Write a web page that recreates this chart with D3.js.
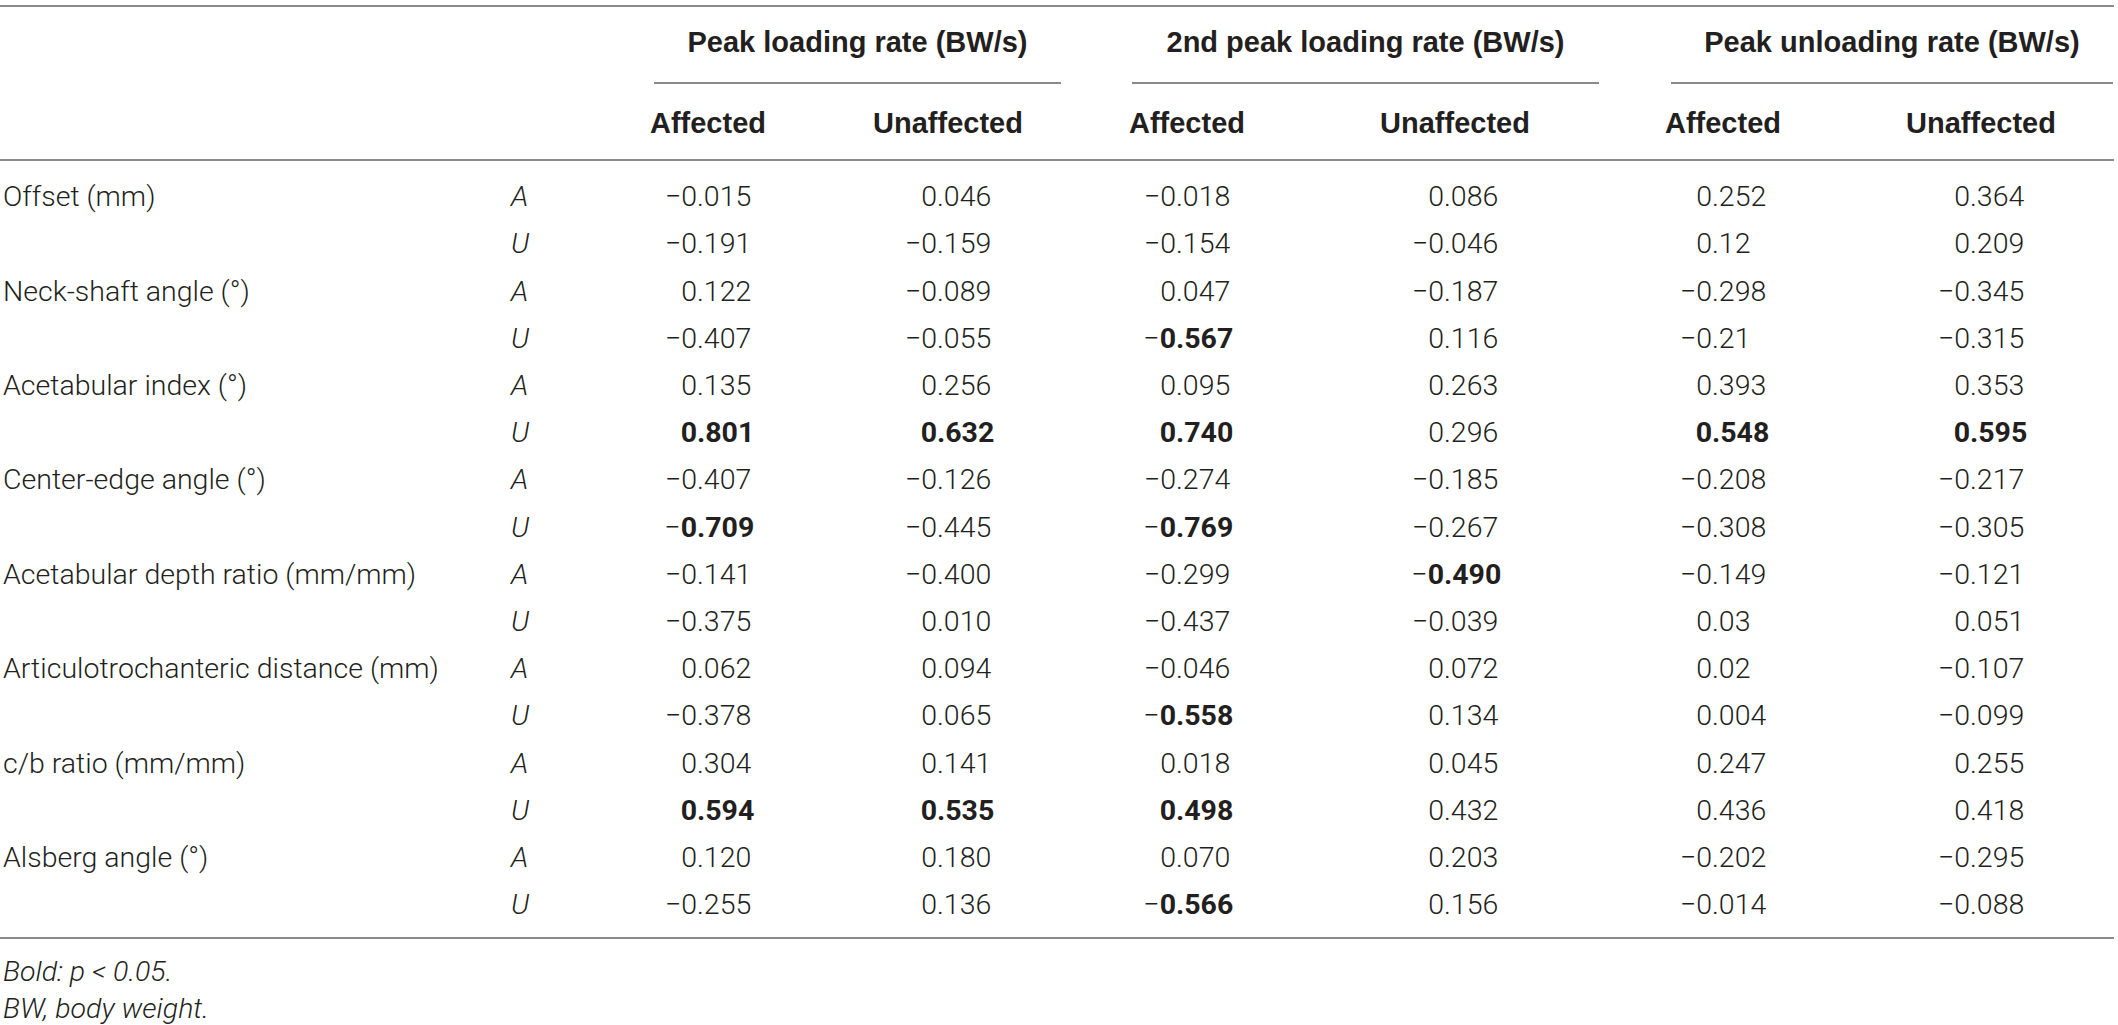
<!DOCTYPE html>
<html>
<head>
<meta charset="utf-8">
<script src="https://cdn.jsdelivr.net/npm/d3@7"></script>
<style>
  html, body { margin: 0; padding: 0; background: #fff; }
  svg { display: block; }
  text { font-family: "Roboto", "Liberation Sans", sans-serif; fill: #231f20; }
  text.hdr { font-family: "Liberation Sans", "Roboto", sans-serif; }
</style>
</head>
<body>
<script>
// ---------- DATA ----------
const variables = [
  "Offset (mm)",
  "Neck-shaft angle (°)",
  "Acetabular index (°)",
  "Center-edge angle (°)",
  "Acetabular depth ratio (mm/mm)",
  "Articulotrochanteric distance (mm)",
  "c/b ratio (mm/mm)",
  "Alsberg angle (°)"
];
const sides = ["A", "U"];
const groups = ["Peak loading rate (BW/s)", "2nd peak loading rate (BW/s)", "Peak unloading rate (BW/s)"];
const subColumns = ["Affected", "Unaffected"];

// values per column, 16 rows (A,U for each variable)
const peakLoadingAffected   = ["−0.015","−0.191","0.122","−0.407","0.135","0.801","−0.407","−0.709","−0.141","−0.375","0.062","−0.378","0.304","0.594","0.120","−0.255"];
const peakLoadingUnaffected = ["0.046","−0.159","−0.089","−0.055","0.256","0.632","−0.126","−0.445","−0.400","0.010","0.094","0.065","0.141","0.535","0.180","0.136"];
const secondPeakAffected    = ["−0.018","−0.154","0.047","−0.567","0.095","0.740","−0.274","−0.769","−0.299","−0.437","−0.046","−0.558","0.018","0.498","0.070","−0.566"];
const secondPeakUnaffected  = ["0.086","−0.046","−0.187","0.116","0.263","0.296","−0.185","−0.267","−0.490","−0.039","0.072","0.134","0.045","0.432","0.203","0.156"];
const peakUnloadingAffected   = ["0.252","0.12","−0.298","−0.21","0.393","0.548","−0.208","−0.308","−0.149","0.03","0.02","0.004","0.247","0.436","−0.202","−0.014"];
const peakUnloadingUnaffected = ["0.364","0.209","−0.345","−0.315","0.353","0.595","−0.217","−0.305","−0.121","0.051","−0.107","−0.099","0.255","0.418","−0.295","−0.088"];

// significant (bold) cells: [row, column]
const boldCells = [[3,2],[5,0],[5,1],[5,2],[5,4],[5,5],[7,0],[7,2],[8,3],[11,2],[13,0],[13,1],[13,2],[15,2]];

const footnotes = ["Bold: p < 0.05.", "BW, body weight."];

// ---------- LAYOUT ----------
const W = 2118, H = 1025;
const columns = [peakLoadingAffected, peakLoadingUnaffected, secondPeakAffected, secondPeakUnaffected, peakUnloadingAffected, peakUnloadingUnaffected];
const nRows = variables.length * sides.length;
const boldSet = new Set(boldCells.map(d => d[0] + "_" + d[1]));

const y = d3.scaleBand().domain(d3.range(nRows)).range([172.6, 927.8]);
const colCenter = d3.scaleOrdinal().domain(d3.range(6)).range([708, 948, 1187, 1455, 1723, 1981]);
const groupX = d3.scaleOrdinal().domain(d3.range(3)).range([[654, 1061], [1132, 1599], [1671, 2113]]);
const decOffset = -11;
const FS = 28.5;
const HFS = 29;
const lineColor = "#8a8a8a";

const svg = d3.select("body").append("svg").attr("width", W).attr("height", H);

// rules
const rules = [
  {x1: 0, x2: 2114, y: 6},
  {x1: 0, x2: 2114, y: 160},
  {x1: 0, x2: 2114, y: 938}
];
svg.selectAll("line.rule").data(rules).join("line").attr("class", "rule")
  .attr("x1", d => d.x1).attr("x2", d => d.x2).attr("y1", d => d.y).attr("y2", d => d.y)
  .attr("stroke", lineColor).attr("stroke-width", 2);

svg.selectAll("line.gline").data(d3.range(3)).join("line").attr("class", "gline")
  .attr("x1", d => groupX(d)[0]).attr("x2", d => groupX(d)[1]).attr("y1", 83).attr("y2", 83)
  .attr("stroke", lineColor).attr("stroke-width", 2);

// group titles
svg.selectAll("text.gtitle").data(groups).join("text").attr("class", "gtitle hdr")
  .attr("x", (d, i) => (groupX(i)[0] + groupX(i)[1]) / 2).attr("y", 52)
  .attr("text-anchor", "middle").attr("font-size", HFS).attr("font-weight", 700)
  .text(d => d);

// sub headers
svg.selectAll("text.sub").data(d3.range(6)).join("text").attr("class", "sub hdr")
  .attr("x", d => colCenter(d)).attr("y", 133)
  .attr("text-anchor", "middle").attr("font-size", HFS).attr("font-weight", 700)
  .text(d => subColumns[d % 2]);

// row labels
const rowG = svg.selectAll("g.row").data(d3.range(nRows)).join("g").attr("class", "row")
  .attr("transform", d => `translate(0,${y(d) + y.bandwidth() / 2 + 10})`);

rowG.filter(d => d % 2 === 0).append("text")
  .attr("x", 3).attr("font-size", FS).attr("font-weight", 300)
  .text(d => variables[d / 2]);

rowG.append("text")
  .attr("x", 511).attr("font-size", FS).attr("font-weight", 300).attr("font-style", "italic")
  .text(d => sides[d % 2]);

// values, decimal aligned
columns.forEach((col, c) => {
  const xd = colCenter(c) + decOffset;
  rowG.each(function(r) {
    const g = d3.select(this);
    const s = col[r];
    const bold = boldSet.has(r + "_" + c);
    const dot = s.indexOf(".");
    const intPart = s.slice(0, dot);
    const frac = s.slice(dot);
    const neg = intPart.startsWith("−");
    const left = g.append("text").attr("x", xd).attr("text-anchor", "end").attr("font-size", FS).attr("font-weight", 300);
    if (neg) left.append("tspan").text("−");
    left.append("tspan").attr("font-weight", bold ? 700 : 300).text(neg ? intPart.slice(1) : intPart);
    g.append("text").attr("x", xd).attr("text-anchor", "start").attr("font-size", FS)
      .attr("font-weight", bold ? 700 : 300).text(frac);
  });
});

// footnotes
svg.selectAll("text.foot").data(footnotes).join("text").attr("class", "foot")
  .attr("x", 3).attr("y", (d, i) => 981 + i * 37)
  .attr("font-size", FS).attr("font-weight", 300).attr("font-style", "italic")
  .text(d => d);
</script>
</body>
</html>
